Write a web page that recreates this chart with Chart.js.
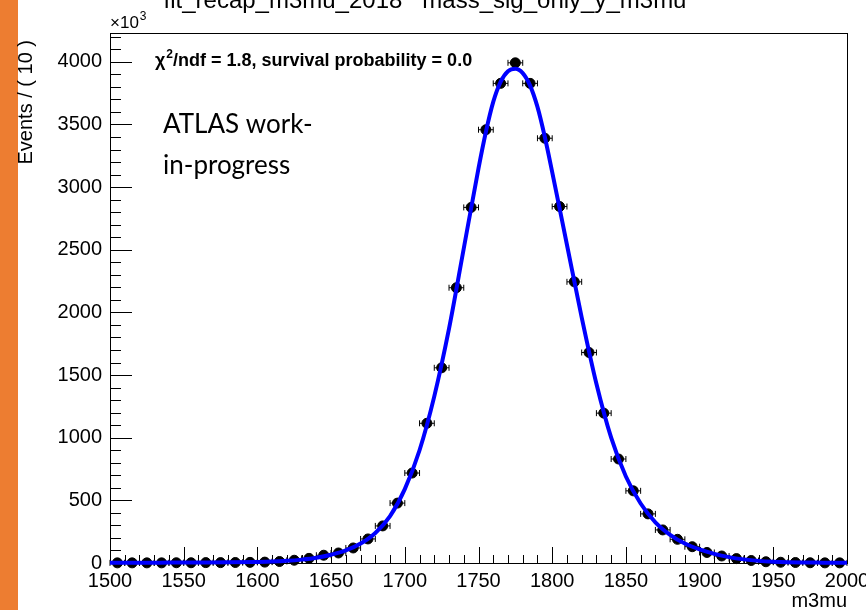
<!DOCTYPE html>
<html>
<head>
<meta charset="utf-8">
<script src="https://cdn.jsdelivr.net/npm/chart.js@4.4.1/dist/chart.umd.min.js"></script>
<style>
  html, body { margin: 0; padding: 0; background: #fff; }
  #wrap { position: relative; width: 866px; height: 610px; }
</style>
</head>
<body>
<div id="wrap"><canvas id="grafico-m3mu"></canvas></div>
<script>
// dados (bins de 10)
const binCenters = [1505, 1515, 1525, 1535, 1545, 1555, 1565, 1575, 1585, 1595,
  1605, 1615, 1625, 1635, 1645, 1655, 1665, 1675, 1685, 1695,
  1705, 1715, 1725, 1735, 1745, 1755, 1765, 1775, 1785, 1795,
  1805, 1815, 1825, 1835, 1845, 1855, 1865, 1875, 1885, 1895,
  1905, 1915, 1925, 1935, 1945, 1955, 1965, 1975, 1985, 1995];
const events = [1, 1, 1, 1, 2, 2, 3, 3, 4, 5,
  7, 12, 22, 37, 62, 80, 120, 192, 296, 478,
  718, 1115, 1558, 2197, 2838, 3458, 3828, 3992, 3828, 3390,
  2845, 2244, 1680, 1196, 830, 576, 392, 264, 189, 130,
  84, 56, 35, 20, 10, 6, 4, 2, 1, 1];

// curva do ajuste (azul)
const fitX = [1500, 1520, 1540, 1560, 1580, 1600, 1610, 1620, 1630, 1640, 1650, 1660, 1670, 1680, 1690,
  1700, 1710, 1720, 1730, 1740, 1750, 1755, 1760, 1765, 1770, 1775, 1780, 1785, 1790, 1795,
  1800, 1810, 1820, 1830, 1840, 1850, 1860, 1870, 1880, 1890, 1900, 1910, 1920, 1930, 1940,
  1950, 1960, 1970, 1980, 1990, 2000];
const fitY = [2, 2, 3, 4, 5, 8, 11, 17, 27, 42, 66, 100, 155, 240, 375,
  590, 900, 1330, 1870, 2510, 3150, 3440, 3680, 3840, 3925, 3945, 3910, 3810, 3640, 3400,
  3120, 2540, 1960, 1430, 1000, 690, 475, 325, 225, 155, 108, 73, 47, 29, 17,
  10, 6, 4, 3, 2, 2];

const xTickValues = [1500, 1550, 1600, 1650, 1700, 1750, 1800, 1850, 1900, 1950, 2000];
const yTickValues = [0, 500, 1000, 1500, 2000, 2500, 3000, 3500, 4000];
const xMin = 1500, xMax = 2000, yMin = 0, yMax = 4230;
const binWidth = 10;

const fonte = "'Liberation Sans', Arial, Helvetica, sans-serif";

const pontos = binCenters.map((x, i) => ({ x: x, y: events[i] }));
const curva = fitX.map((x, i) => ({ x: x, y: fitY[i] }));

// faixa laranja, moldura, ticks internos (estilo ROOT), textos
const estiloRoot = {
  id: "estiloRoot",
  beforeDraw(chart) {
    const ctx = chart.ctx;
    ctx.save();
    ctx.fillStyle = "#ED7D31";
    ctx.fillRect(0, 0, 18, chart.height);
    ctx.restore();
  },
  beforeDatasetsDraw(chart) {
    const ctx = chart.ctx;
    const xs = chart.scales.x, ys = chart.scales.y;
    const a = chart.chartArea;
    ctx.save();
    ctx.strokeStyle = "#000";
    ctx.lineWidth = 1;
    ctx.beginPath();
    for (let v = xMin; v <= xMax; v += 10) {
      const px = Math.round(xs.getPixelForValue(v)) + 0.5;
      const len = (v % 50 === 0) ? 16 : 8;
      ctx.moveTo(px, a.bottom);
      ctx.lineTo(px, a.bottom - len);
    }
    for (let v = yMin; v <= yMax; v += 100) {
      const py = Math.round(ys.getPixelForValue(v)) + 0.5;
      const len = (v % 500 === 0) ? 22 : 11;
      ctx.moveTo(a.left, py);
      ctx.lineTo(a.left + len, py);
    }
    ctx.stroke();
    ctx.strokeRect(Math.round(a.left) + 0.5, Math.round(a.top) + 0.5,
      Math.round(a.right - a.left), Math.round(a.bottom - a.top));

    // barras de erro horizontais (largura do bin)
    ctx.beginPath();
    binCenters.forEach((x, i) => {
      const py = ys.getPixelForValue(events[i]);
      const x1 = xs.getPixelForValue(x - binWidth / 2);
      const x2 = xs.getPixelForValue(x + binWidth / 2);
      ctx.moveTo(x1, py); ctx.lineTo(x2, py);
      ctx.moveTo(x1, py - 3); ctx.lineTo(x1, py + 3);
      ctx.moveTo(x2, py - 3); ctx.lineTo(x2, py + 3);
    });
    ctx.stroke();
    ctx.restore();
  },
  afterDraw(chart) {
    const ctx = chart.ctx;
    const a = chart.chartArea;
    ctx.save();
    ctx.fillStyle = "#000";

    // titulo (cortado no topo)
    ctx.font = "24px " + fonte;
    ctx.textAlign = "center";
    ctx.textBaseline = "alphabetic";
    ctx.fillText("fit_recap_m3mu_2018   mass_sig_only_y_m3mu", 425, 8);

    // x10^3
    ctx.textAlign = "left";
    ctx.font = "17px " + fonte;
    ctx.fillText("\u00d710", a.left, 28);
    const w10 = ctx.measureText("\u00d710").width;
    ctx.font = "12px " + fonte;
    ctx.fillText("3", a.left + w10 + 1, 20);

    // titulo eixo y
    ctx.save();
    ctx.translate(26, 40);
    ctx.rotate(-Math.PI / 2);
    ctx.font = "20px " + fonte;
    ctx.textAlign = "right";
    ctx.textBaseline = "middle";
    ctx.fillText("Events / ( 10 )", 0, 0);
    ctx.restore();

    // titulo eixo x
    ctx.font = "20px " + fonte;
    ctx.textAlign = "right";
    ctx.fillText("m3mu", a.right, 607);

    // chi2
    ctx.textAlign = "left";
    ctx.font = "bold 18px " + fonte;
    let px = 155;
    ctx.fillText("\u03c7", px, 66);
    px += ctx.measureText("\u03c7").width;
    ctx.font = "bold 12px " + fonte;
    ctx.fillText("2", px + 1, 58);
    px += ctx.measureText("2").width + 1;
    ctx.font = "bold 18px " + fonte;
    ctx.fillText("/ndf = 1.8, survival probability = 0.0", px, 66);

    // ATLAS
    ctx.font = "26px Lato, 'Open Sans', sans-serif";
    ctx.fillText("ATLAS work-", 163, 133);
    ctx.fillText("in-progress", 163, 174);
    ctx.restore();
  }
};

const ctx = document.getElementById("grafico-m3mu").getContext("2d");

new Chart(ctx, {
  type: "scatter",
  data: {
    datasets: [
      {
        type: "line",
        label: "fit",
        data: curva,
        borderColor: "#0000ff",
        borderWidth: 4,
        pointRadius: 0,
        fill: false,
        cubicInterpolationMode: "monotone",
        clip: 4,
        order: 0
      },
      {
        label: "data",
        data: pontos,
        backgroundColor: "#000",
        borderColor: "#000",
        pointRadius: 5,
        pointHoverRadius: 5,
        showLine: false,
        clip: false,
        order: 1
      }
    ]
  },
  plugins: [estiloRoot],
  options: {
    responsive: true,
    maintainAspectRatio: false,
    animation: false,
    events: [],
    layout: { padding: { left: 0, top: 33, right: 19, bottom: 0 } },
    plugins: {
      legend: { display: false },
      tooltip: { enabled: false },
      title: { display: false }
    },
    scales: {
      x: {
        type: "linear",
        min: xMin,
        max: xMax,
        afterBuildTicks: axis => { axis.ticks = xTickValues.map(v => ({ value: v })); },
        afterFit: scale => { scale.height = 47; scale.paddingLeft = 0; scale.paddingRight = 0; },
        grid: { display: false, drawTicks: false },
        border: { display: false },
        ticks: {
          color: "#000",
          font: { family: fonte, size: 20 },
          padding: 6,
          maxRotation: 0,
          autoSkip: false,
          callback: v => String(v)
        }
      },
      y: {
        type: "linear",
        min: yMin,
        max: yMax,
        afterBuildTicks: axis => { axis.ticks = yTickValues.map(v => ({ value: v })); },
        afterFit: scale => { scale.width = 110; scale.paddingTop = 0; scale.paddingBottom = 0; },
        grid: { display: false, drawTicks: false },
        border: { display: false },
        ticks: {
          color: "#000",
          font: { family: fonte, size: 20 },
          padding: 8,
          autoSkip: false,
          callback: v => String(v)
        }
      }
    }
  }
});
</script>
</body>
</html>
